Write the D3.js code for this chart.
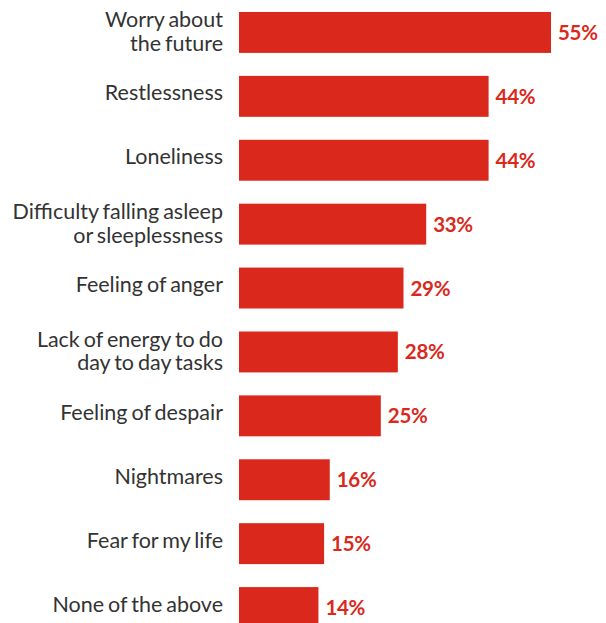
<!DOCTYPE html>
<html>
<head>
<meta charset="utf-8">
<script src="https://cdn.jsdelivr.net/npm/d3@7"></script>
<style>
  html, body { margin: 0; padding: 0; background: #ffffff; }
  svg { display: block; }
</style>
</head>
<body>
<div id="chart"></div>
<script>
// Symptoms reported, share of respondents (%)
const categories = [
  ["Worry about", "the future"],
  ["Restlessness"],
  ["Loneliness"],
  ["Difficulty falling asleep", "or sleeplessness"],
  ["Feeling of anger"],
  ["Lack of energy to do", "day to day tasks"],
  ["Feeling of despair"],
  ["Nightmares"],
  ["Fear for my life"],
  ["None of the above"]
];
const values = [55, 44, 44, 33, 29, 28, 25, 16, 15, 14];

const width = 606, height = 623;
const barColor = "#da291c";

const svg = d3.select("#chart").append("svg")
  .attr("width", width).attr("height", height);

const x = d3.scaleLinear().domain([0, 55]).range([239, 551]);
const y = d3.scaleBand()
  .domain(d3.range(categories.length))
  .range([0, 64 * categories.length])
  .paddingInner(23 / 64)
  .paddingOuter(12 / 64);

const rows = svg.selectAll("g.row")
  .data(values.map((v, i) => ({ v, label: categories[i], i })))
  .join("g").attr("class", "row");

rows.append("rect")
  .attr("x", x(0))
  .attr("y", d => y(d.i))
  .attr("width", d => x(d.v) - x(0))
  .attr("height", y.bandwidth())
  .attr("fill", barColor);

rows.append("text")
  .attr("x", d => x(d.v) + 7)
  .attr("y", d => y(d.i) + y.bandwidth() / 2 + 7.5)
  .attr("font-family", "Lato, sans-serif")
  .attr("font-weight", "bold")
  .attr("font-size", 20.5)
  .attr("letter-spacing", -0.3)
  .attr("fill", barColor)
  .text(d => d.v + "%");

const lab = rows.append("text")
  .attr("text-anchor", "end")
  .attr("font-family", "Lato, sans-serif")
  .attr("font-size", 21.5)
  .attr("word-spacing", -1.5)
  .attr("fill", "#333333");

lab.each(function(d) {
  const t = d3.select(this);
  const cy = y(d.i) + y.bandwidth() / 2;
  const offsets = d.label.length === 1 ? [4] : [-5, 18.5];
  d.label.forEach((line, k) => {
    t.append("tspan")
      .attr("x", 223)
      .attr("y", cy + offsets[k])
      .text(line);
  });
});
</script>
</body>
</html>
